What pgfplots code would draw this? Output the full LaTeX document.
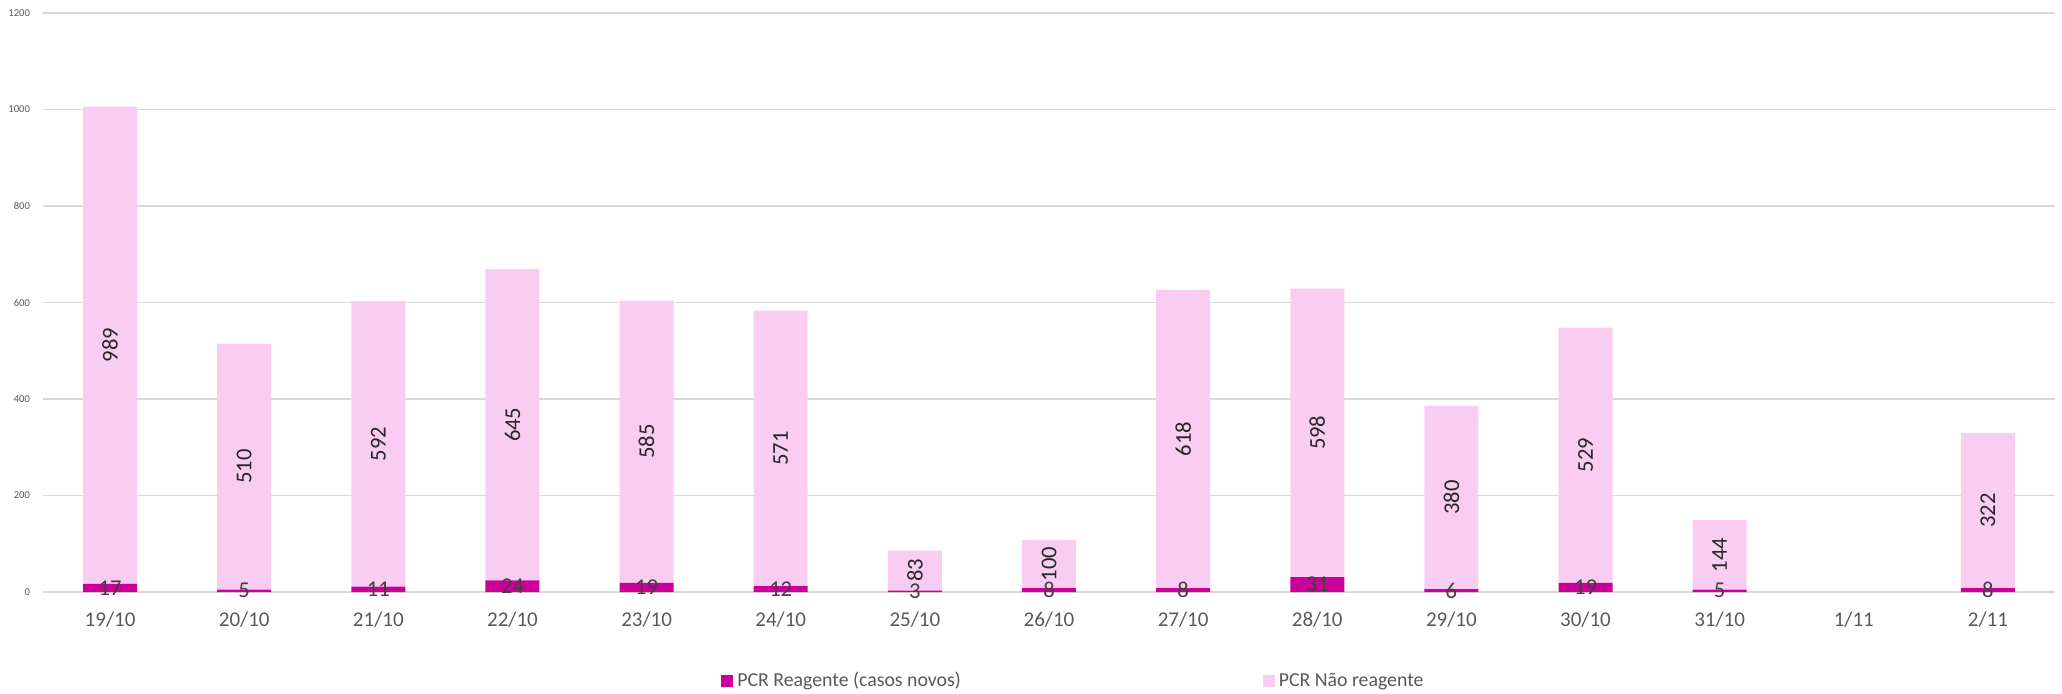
\documentclass[border=0pt]{standalone}
\usepackage{fontspec}
\setmainfont{Carlito}
\usepackage{pgfplots}
\usepackage{pgfplotstable}
\pgfplotsset{compat=1.18}
\definecolor{reag}{HTML}{CC0099}
\definecolor{nreag}{HTML}{F9CCF2}
\definecolor{gridc}{HTML}{D9D9D9}
\definecolor{tickc}{HTML}{595959}
\definecolor{labc}{HTML}{404040}
\pgfplotstableread{
x reag nreag
0 17 989
1 5 510
2 11 592
3 24 645
4 19 585
5 12 571
6 3 83
7 8 100
8 8 618
9 31 598
10 6 380
11 19 529
12 5 144
14 8 322
}\datatab
\pgfplotsset{common/.style={
  at={(0,0)}, anchor=south west,
  scale only axis, width=1006bp, height=289.5bp,
  xmin=-0.5, xmax=14.5, ymin=0, ymax=1200,
}}
\begin{document}
\begin{tikzpicture}
\useasboundingbox (-21.5bp,-51bp) rectangle (1009.5bp,296bp);
\begin{axis}[
  common,
  ybar stacked, bar width=27bp,
  xtick={0,...,14},
  xticklabels={19/10,20/10,21/10,22/10,23/10,24/10,25/10,26/10,27/10,28/10,29/10,30/10,31/10,1/11,2/11},
  ytick={0,200,...,1200},
  /pgf/number format/assume math mode=true,
  /pgf/number format/1000 sep={},
  ymajorgrids, major grid style={color=gridc, line width=0.6bp},
  major tick length=0pt,
  separate axis lines,
  axis x line*=bottom, axis y line*=left,
  x axis line style={color=gridc, line width=1.2bp, -},
  y axis line style={draw=none},
  xticklabel style={font=\fontsize{10.5bp}{12bp}\selectfont, color=tickc, yshift=-6.5bp},
  yticklabel style={font=\fontsize{5.3bp}{6bp}\selectfont, color=tickc, xshift=-3bp},
  legend style={draw=none, at={(0.334,-0.1537)}, anchor=west, font=\fontsize{9.9bp}{11bp}\selectfont, text=tickc,
    /tikz/every even column/.append style={column sep=149bp}},
  legend columns=2,
  legend cell align=left,
  legend image code/.code={\fill[#1] (0bp,-3bp) rectangle (6bp,3bp);},
]
\addplot[fill=reag, draw=none] table[x=x, y=reag] {\datatab};
\addlegendentry{PCR Reagente (casos novos)}
\addplot[fill=nreag, draw=none] table[x=x, y=nreag] {\datatab};
\addlegendentry{PCR Não reagente}
\end{axis}
\begin{axis}[
  common, hide axis,
  nodes near coords, point meta=explicit symbolic,
  every node near coord/.append style={anchor=center, inner sep=0pt, font=\fontsize{11.3bp}{13bp}\selectfont},
]
\addplot[draw=none, no markers, every node near coord/.append style={color=labc}]
  table[x=x, y expr=\thisrow{reag}/2, meta=reag] {\datatab};
\addplot[draw=none, no markers, every node near coord/.append style={color=black!85, rotate=90}]
  table[x=x, y expr=\thisrow{reag}+\thisrow{nreag}/2, meta=nreag] {\datatab};
\end{axis}
\end{tikzpicture}
\end{document}
